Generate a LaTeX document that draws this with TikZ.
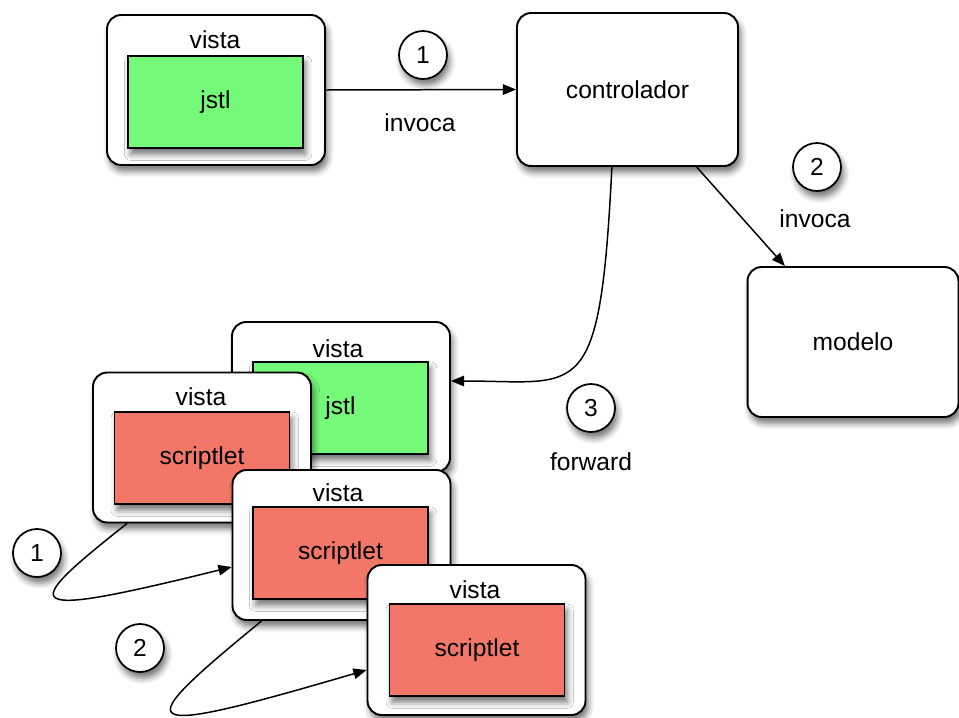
\documentclass[tikz,border=0pt]{standalone}
\usepackage{fontspec}
\setmainfont{Liberation Sans}
\usetikzlibrary{arrows.meta,calc,shadows.blur}
\definecolor{jstlgreen}{RGB}{116,250,120}
\definecolor{scriptred}{RGB}{243,119,104}
\begin{document}
\begin{tikzpicture}[x=0.02cm, y=-0.02cm, every node/.style={font=\fontsize{14}{16}\selectfont}]
  \tikzstyle{shade}=[blur shadow={shadow xshift=1.5pt, shadow yshift=-3.5pt, shadow blur radius=3.5pt, shadow opacity=55}]
  \tikzstyle{outer}=[draw, line width=1.1pt, fill=white, rounded corners=8pt, shade, minimum width=4.36cm, minimum height=3cm]
  \tikzstyle{greenbox}=[draw, line width=1.1pt, fill=jstlgreen, shade, minimum width=3.5cm, minimum height=1.84cm]
  \tikzstyle{redbox}=[draw, line width=1.1pt, fill=scriptred, shade, minimum width=3.5cm, minimum height=1.84cm]
  \tikzstyle{num}=[draw, circle, line width=1pt, fill=white, shade, minimum size=0.96cm, inner sep=0pt]
  \tikzstyle{conn}=[line width=0.85pt, -{Triangle[length=7.5pt, width=6pt]}]
  \useasboundingbox (0,0) rectangle (959,717);
  % top row
  \node[outer] (vtop) at (216,90) {};
  \node (vtoplbl) at (215,40) {vista};
  \node[greenbox] (jtop) at (215.5,102) {jstl};
  \node[outer, minimum width=4.42cm, minimum height=3.06cm] (ctrl) at (627.5,89.5) {controlador};
  \node[outer, minimum width=4.22cm] (modelo) at (853,342) {modelo};
  % stacked views
  \node[outer] (vback) at (341,397) {};
  \node (vbacklbl) at (338,349) {vista};
  \node[greenbox] (jback) at (340.5,408) {jstl};
  \node[outer] (vfront) at (202,447.5) {};
  \node (vfrontlbl) at (201,397) {vista};
  \node[redbox] (sfront) at (202,458) {scriptlet};
  \node[outer] (v2) at (341.5,545) {};
  \node (v2lbl) at (338,493) {vista};
  \node[redbox] (s2) at (340.5,553) {scriptlet};
  \node[outer] (v3) at (476.5,640) {};
  \node (v3lbl) at (475,590) {vista};
  \node[redbox] (s3) at (477,650) {scriptlet};
  % step numbers
  \node[num] (n1) at (423,55) {1};
  \node (inv1) at (420,123) {invoca};
  \node[num] (n2) at (817,167) {2};
  \node (inv2) at (815,219) {invoca};
  \node[num] (n3) at (591,408) {3};
  \node (fwd) at (591,462) {forward};
  \node[num] (m1) at (37,553) {1};
  \node[num] (m2) at (140,648) {2};
  % connectors
  \draw[conn] (vtop.east) -- (ctrl.west);
  \draw[conn] ($(ctrl.south west)!0.81!(ctrl.south east)$) -- ($(modelo.north west)!0.18!(modelo.north east)$);
  \draw[conn] ($(ctrl.south west)!0.43!(ctrl.south east)$) .. controls +(-12,240) and +(130,0) .. ($(vback.east)+(0,-16)$);
  \draw[conn] ($(vfront.south west)+(35,0)$) .. controls +(-110,87) and +(-215,53) .. ($(v2.west)+(0,22)$);
  \draw[conn] ($(v2.south west)+(30,0)$) .. controls +(-134,110) and +(-239,70) .. ($(v3.west)+(0,30)$);
\end{tikzpicture}
\end{document}
